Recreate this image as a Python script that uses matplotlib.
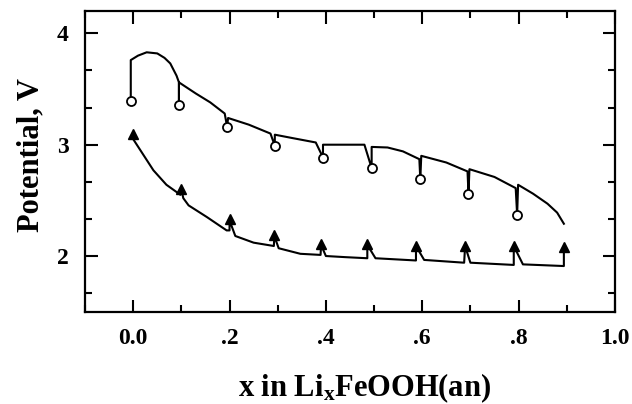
import matplotlib
matplotlib.use("Agg")
import matplotlib.pyplot as plt
from matplotlib.ticker import MultipleLocator, FixedLocator, FixedFormatter

plt.rcParams['font.family'] = ['Liberation Serif', 'DejaVu Serif']
plt.rcParams['font.weight'] = 'bold'
plt.rcParams['mathtext.fontset'] = 'custom'
plt.rcParams['mathtext.rm'] = 'Liberation Serif:bold'
plt.rcParams['mathtext.it'] = 'Liberation Serif:bold'
plt.rcParams['mathtext.bf'] = 'Liberation Serif:bold'

# charge trace (upper), with relaxation dips to the open circles
charge_x = [-0.005, -0.005, 0.01, 0.028, 0.05, 0.065, 0.077, 0.09, 0.095, 0.095, 0.095,
            0.13, 0.16, 0.19, 0.195, 0.197, 0.24, 0.285, 0.294, 0.294,
            0.33, 0.379, 0.394, 0.394, 0.48, 0.495, 0.495, 0.528, 0.56, 0.594,
            0.596, 0.598, 0.65, 0.694, 0.696, 0.698, 0.75, 0.794, 0.797, 0.799,
            0.83, 0.86, 0.88, 0.894]
charge_v = [3.39, 3.76, 3.80, 3.83, 3.82, 3.78, 3.73, 3.62, 3.56, 3.36, 3.56,
            3.46, 3.38, 3.28, 3.16, 3.24, 3.18, 3.10, 2.99, 3.09,
            3.06, 3.02, 2.885, 3.0, 3.0, 2.79, 2.98, 2.975, 2.94, 2.87,
            2.69, 2.90, 2.84, 2.76, 2.56, 2.78, 2.71, 2.61, 2.37, 2.64,
            2.56, 2.47, 2.39, 2.29]

circle_x = [-0.005, 0.095, 0.195, 0.294, 0.394, 0.495, 0.596, 0.696, 0.797]
circle_v = [3.39, 3.36, 3.16, 2.99, 2.885, 2.79, 2.69, 2.56, 2.37]

# discharge trace (lower), with relaxation spikes up to the triangles
dis_x = [0.0, 0.0, 0.021, 0.042, 0.069, 0.09, 0.098, 0.10, 0.104, 0.115, 0.153,
         0.194, 0.20, 0.20, 0.212, 0.25, 0.292, 0.293, 0.302, 0.347, 0.389,
         0.39, 0.40, 0.44, 0.486, 0.486, 0.503, 0.587, 0.587, 0.604, 0.687,
         0.689, 0.70, 0.79, 0.79, 0.809, 0.894, 0.894]
dis_v = [3.10, 3.05, 2.91, 2.77, 2.64, 2.575, 2.55, 2.60, 2.52, 2.455, 2.35,
         2.23, 2.23, 2.32, 2.18, 2.12, 2.09, 2.18, 2.07, 2.02, 2.01,
         2.10, 2.0, 1.99, 1.98, 2.10, 1.98, 1.96, 2.09, 1.965, 1.94,
         2.09, 1.94, 1.92, 2.09, 1.925, 1.91, 2.08]

tri_x = [0.0, 0.10, 0.20, 0.293, 0.39, 0.486, 0.587, 0.689, 0.79, 0.894]
tri_v = [3.10, 2.60, 2.33, 2.19, 2.105, 2.11, 2.09, 2.09, 2.09, 2.08]

xtick_pos = [0.0, 0.2, 0.4, 0.6, 0.8, 1.0]
xtick_lab = ['0.0', '.2', '.4', '.6', '.8', '1.0']
ytick_pos = [2, 3, 4]

fig = plt.figure(figsize=(6.32, 4.04), dpi=100)
ax = fig.add_axes([0.1345, 0.2285, 0.8385, 0.744])

ax.plot(charge_x, charge_v, color='black', lw=1.5)
ax.plot(circle_x, circle_v, 'o', ms=6.5, mfc='white', mec='black', mew=1.3)
ax.plot(dis_x, dis_v, color='black', lw=1.5)
ax.plot(tri_x, tri_v, '^', ms=7.5, color='black')

ax.set_xlim(-0.1, 1.0)
ax.set_ylim(1.5, 4.2)
ax.xaxis.set_major_locator(FixedLocator(xtick_pos))
ax.xaxis.set_major_formatter(FixedFormatter(xtick_lab))
ax.xaxis.set_minor_locator(MultipleLocator(0.1))
ax.yaxis.set_major_locator(FixedLocator(ytick_pos))
ax.yaxis.set_minor_locator(MultipleLocator(1 / 3))

ax.tick_params(which='both', direction='in', top=True, right=True, width=1.5)
ax.tick_params(which='major', length=9, labelsize=17, pad=12)
ax.tick_params(which='minor', length=5)
for s in ax.spines.values():
    s.set_linewidth(1.6)

ax.set_xlabel('x in Li$_{\\mathrm{x}}$FeOOH(an)', fontsize=22, fontweight='bold')
ax.set_ylabel('Potential, V', fontsize=22, fontweight='bold')
ax.xaxis.set_label_coords(0.528, -0.2)
ax.yaxis.set_label_coords(-0.074, 0.52)

fig.savefig('out.png', dpi=100)
